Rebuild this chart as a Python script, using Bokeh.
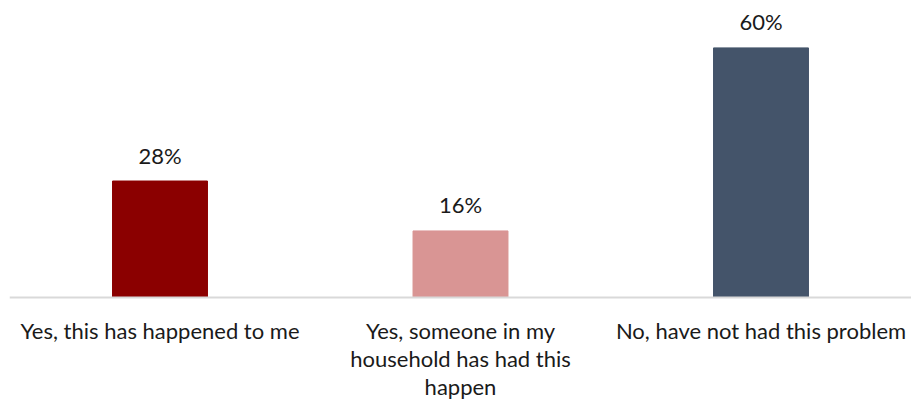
from bokeh.plotting import figure
from bokeh.models import ColumnDataSource, Range1d
from bokeh.core.properties import value
from bokeh.embed import file_html
from bokeh.resources import INLINE

categories = ["Yes, this has happened to me",
              "Yes, someone in my\nhousehold has had this\nhappen",
              "No, have not had this problem"]
values = [28, 16, 60]
colors = ["#8B0000", "#D99594", "#44546A"]

xs = list(range(len(categories)))
labels = [f"{v}%" for v in values]
src = ColumnDataSource(dict(x=xs, top=values, color=colors, label=labels, cat=categories,
                            zero=[0] * len(xs)))

W, H = 911, 400
px_per_unit_y = 4.16
base_px = 297
px_per_cat = 300.5
first_center = 159.5

p = figure(width=W, height=H, output_backend="svg", toolbar_location=None,
           min_border=0, min_border_left=0, min_border_right=0,
           min_border_top=0, min_border_bottom=0)
p.x_range = Range1d(-first_center / px_per_cat, -first_center / px_per_cat + W / px_per_cat)
p.y_range = Range1d(-(H - base_px) / px_per_unit_y, base_px / px_per_unit_y)
p.axis.visible = False
p.grid.visible = False
p.outline_line_color = None
p.background_fill_color = "white"
p.border_fill_color = "white"

p.vbar(x="x", top="top", bottom=0, width=0.316, color="color", source=src)

p.segment(x0=[-0.5], y0=[0], x1=[len(xs) - 0.5], y1=[0], line_color="#D9D9D9", line_width=2)

font = value("Lato")
p.text(x="x", y="top", text="label", source=src, text_font=font, text_font_size="22px",
       text_color="#1A1A1A", text_align="center", text_baseline="middle", y_offset=-26)

p.text(x="x", y="zero", text="cat", source=src, text_font=font, text_font_size="22px",
       text_color="#1A1A1A", text_align="center", text_baseline="top", y_offset=19,
       text_line_height=1.04)

open("out.html", "w").write(file_html(p, INLINE))
